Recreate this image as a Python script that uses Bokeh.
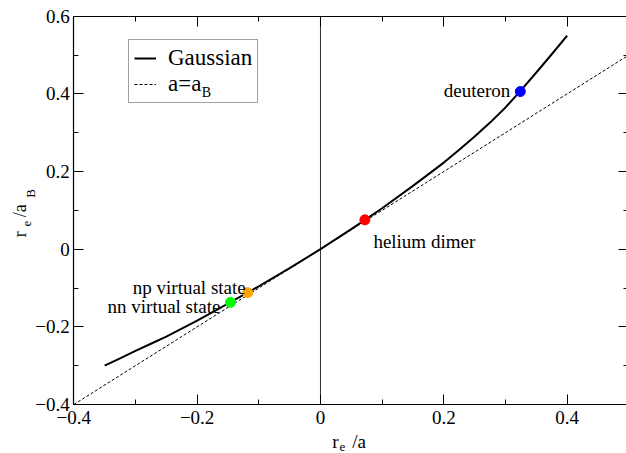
import math
from bokeh.plotting import figure
from bokeh.models import (Label, Legend, LegendItem, LinearAxis, FixedTicker, Range1d)
from bokeh.embed import file_html
from bokeh.resources import INLINE

# ---- data ----
curve_x = [-0.35, -0.325, -0.30, -0.275, -0.25, -0.20, -0.15, -0.10, -0.05, 0.00, 0.05, 0.10,
           0.15, 0.20, 0.225, 0.25, 0.275, 0.30, 0.325, 0.35, 0.375, 0.40]
curve_y = [-0.300, -0.281, -0.262, -0.2435, -0.225, -0.184, -0.140, -0.0955, -0.0488, 0.000,
           0.0515, 0.1055, 0.163, 0.223, 0.256, 0.290, 0.326, 0.365, 0.409, 0.455, 0.502, 0.550]
ident_x = [-0.4, 0.5]
ident_y = [-0.4, 0.5]
pt_names = ["nn virtual state", "np virtual state", "helium dimer", "deuteron"]
pt_x = [-0.146, -0.118, 0.072, 0.324]
pt_y = [-0.137, -0.112, 0.0755, 0.406]
pt_colors = ["#00ff00", "#ffa500", "#ff0000", "#0000ff"]
x_ticks = [-0.4, -0.2, 0, 0.2, 0.4]
x_minor = [-0.3, -0.1, 0.1, 0.3, 0.5]
y_ticks = [-0.4, -0.2, 0, 0.2, 0.4, 0.6]
y_minor = [-0.3, -0.1, 0.1, 0.3, 0.5]
tick_text = {"-0.4": "-0.4", "-0.2": "-0.2", "0": "0", "0.2": "0.2", "0.4": "0.4", "0.6": "0.6"}

# axis box (data limits of the drawn box)
XLO, XHI = -0.4, 0.5
YLO, YHI = -0.4, 0.6

FONT = "Liberation Serif"
AXFONT = "'Liberation Serif'"
LEGFONT = "'Liberation Serif'"
W, H = 626, 453
# pixel placement of the box in the canvas
BOX_L, BOX_B = 73.3, 404.0
PX_X, PX_Y = 616.7, 388.3

x_start = XLO - BOX_L / PX_X
y_start = YLO - (H - BOX_B) / PX_Y

p = figure(width=W, height=H, output_backend="svg", toolbar_location=None,
           x_range=Range1d(x_start, x_start + W / PX_X),
           y_range=Range1d(y_start, y_start + H / PX_Y),
           x_axis_type=None, y_axis_type=None,
           min_border=0)
p.xgrid.visible = False
p.ygrid.visible = False
p.outline_line_color = None
p.background_fill_color = "white"
p.border_fill_color = "white"


def make_axis(ticks, minor, bounds, loc, show_labels, line=True):
    ax = LinearAxis(ticker=FixedTicker(ticks=ticks, minor_ticks=minor),
                    bounds=bounds, fixed_location=loc)
    ax.major_tick_in = 10
    ax.major_tick_out = 0
    ax.minor_tick_in = 5
    ax.minor_tick_out = 0
    ax.major_tick_line_color = "black"
    ax.minor_tick_line_color = "black"
    ax.axis_line_color = "black" if line else None
    ax.axis_line_width = 1.2
    if show_labels:
        ax.major_label_overrides = tick_text
        ax.major_label_text_font = AXFONT
        ax.major_label_text_font_size = "19px"
        ax.major_label_text_color = "black"
    else:
        ax.major_label_text_font_size = "0px"
        ax.major_label_standoff = 0
    return ax


bx = make_axis(x_ticks, x_minor, (XLO, XHI), YLO, True)
bx.major_label_standoff = 6
p.add_layout(bx, "below")
ly = make_axis(y_ticks, y_minor, (YLO, YHI), XLO, True)
ly.major_label_standoff = 4
p.add_layout(ly, "left")
p.add_layout(make_axis(x_ticks, x_minor, (XLO, XHI), YHI, False), "above")
p.add_layout(make_axis(y_ticks, y_minor, (YLO, YHI), XHI, False), "right")

# vertical line at x = 0 across the box
p.segment(x0=[0], y0=[YLO], x1=[0], y1=[YHI], line_color="#333333", line_width=1)

r_ident = p.line(ident_x, ident_y, line_color="black", line_width=1, line_dash="3 2")
r_curve = p.line(curve_x, curve_y, line_color="black", line_width=2)
p.scatter(pt_x, pt_y, size=10, fill_color=pt_colors, line_color=pt_colors, marker="circle")

legend = Legend(items=[LegendItem(label="Gaussian", renderers=[r_curve]),
                       LegendItem(label="a=a", renderers=[r_ident])],
                location=(128, 350), orientation="vertical",
                label_text_font=LEGFONT, label_text_font_size="23px", label_text_color="black",
                glyph_width=22, glyph_height=18, label_height=18, label_standoff=12,
                padding=5, spacing=0, margin=0,
                border_line_color="#444444", border_line_width=1.5,
                background_fill_color="white", background_fill_alpha=0.0)
p.add_layout(legend, "center")

# point labels
offsets = [(-10, -4.5, "right"), (-2, 5, "right"), (8.5, -22, "left"), (-10, 1, "right")]
for name, x, y, (dx, dy, al) in zip(pt_names, pt_x, pt_y, offsets):
    p.add_layout(Label(x=x, y=y, x_offset=dx, y_offset=dy, text=name, text_font=FONT,
                       text_font_size="19px", text_align=al, text_baseline="alphabetic",
                       text_color="black"))


def olabel(dx, dy, text, size, angle=0.0):
    # positioned by pixel offsets from the bottom-left corner of the axis box
    lb = Label(x=XLO, y=YLO, x_offset=dx, y_offset=dy, text=text, angle=angle,
               text_font=FONT, text_font_size=size, text_baseline="alphabetic",
               text_color="black", level="overlay")
    p.add_layout(lb)


# legend subscript
olabel(128, 312, "B", "14px")

# x axis label r_e /a
olabel(258.4, -37, "r", "19px")
olabel(265.7, -42, "e", "13px")
olabel(278.4, -37, "/a", "19px")

# y axis label r_e /a_B (rotated)
ang = math.pi / 2
olabel(-54, 167.3, "r", "18px", ang)
olabel(-47, 178, "e", "13px", ang)
olabel(-53.8, 187.3, "/a", "18px", ang)
olabel(-43.8, 206.7, "B", "13px", ang)

open("out.html", "w").write(file_html(p, INLINE))
